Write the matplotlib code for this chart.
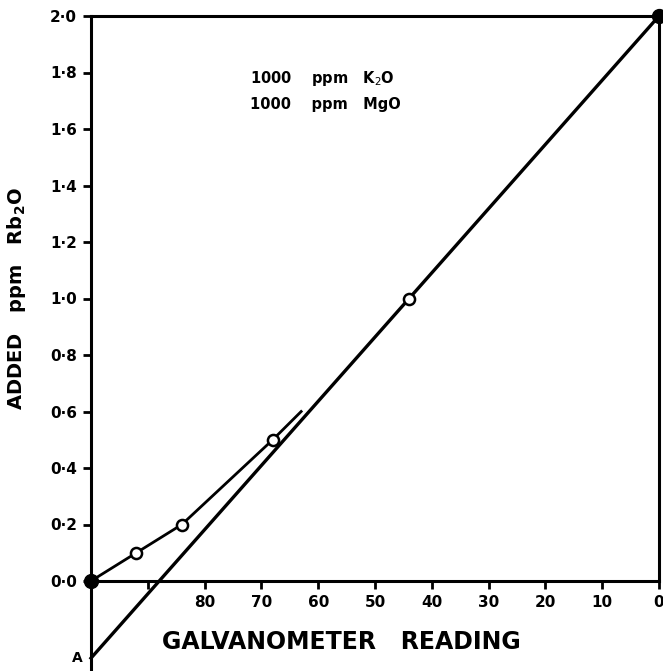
import matplotlib
matplotlib.use("Agg")
import matplotlib.pyplot as plt

# Data
curve_x = [100, 92, 84, 68, 63]
curve_y = [0.0, 0.1, 0.2, 0.5, 0.6]
circle_x = [92, 84, 68, 44]
circle_y = [0.1, 0.2, 0.5, 1.0]
line_x = [100, 0]
line_y = [-0.273, 2.0]
dot_x = [100, 0]
dot_y = [0.0, 2.0]
xticks = [90, 80, 70, 60, 50, 40, 30, 20, 10, 0]
xticklabels = ["", "80", "70", "60", "50", "40", "30", "20", "10", "0"]
yticks = [0.0, 0.2, 0.4, 0.6, 0.8, 1.0, 1.2, 1.4, 1.6, 1.8, 2.0]
yticklabels = ["0·0", "0·2", "0·4", "0·6", "0·8", "1·0", "1·2", "1·4", "1·6", "1·8", "2·0"]

fig = plt.figure(figsize=(6.63, 6.71), dpi=100)
ax = fig.add_axes([91/663, 1-581/671, 568/663, 565/671])
ax.set_xlim(100, 0)
ax.set_ylim(0, 2.0)

for s in ax.spines.values():
    s.set_linewidth(2.2)
    s.set_color("black")

ax.plot(line_x, line_y, color="black", lw=2.4, clip_on=False, zorder=3)
ax.plot(curve_x, curve_y, color="black", lw=2.0, clip_on=False, zorder=3)
ax.plot(circle_x, circle_y, "o", ms=8, mfc="white", mec="black", mew=1.8, zorder=4, clip_on=False)
ax.plot(dot_x, dot_y, "o", ms=10, color="black", zorder=5, clip_on=False)

# extension of left axis below zero
ax.plot([100, 100], [0, -0.32], color="black", lw=2.2, clip_on=False, zorder=3)
ax.text(101.5, -0.273, "A", ha="right", va="center", fontsize=10, fontweight="bold")

ax.set_xticks(xticks)
ax.set_xticklabels(xticklabels)
ax.set_yticks(yticks)
ax.set_yticklabels(yticklabels)
ax.tick_params(axis="both", direction="out", length=6, width=2, labelsize=11, pad=4)
for lab in ax.get_xticklabels() + ax.get_yticklabels():
    lab.set_fontweight("bold")

ax.set_xlabel("GALVANOMETER   READING", fontsize=17, fontweight="bold")
ax.xaxis.set_label_coords(0.44, -0.087)
ax.set_ylabel("ADDED   ppm   Rb$_\\mathbf{2}$O", fontsize=14, fontweight="bold", labelpad=16)

ax.text(72, 1.78, "1000    ppm   K$_2$O", fontsize=10.5, fontweight="bold", ha="left", va="center")
ax.text(72, 1.685, "1000    ppm   MgO", fontsize=10.5, fontweight="bold", ha="left", va="center")

fig.savefig("out.png", dpi=100)
